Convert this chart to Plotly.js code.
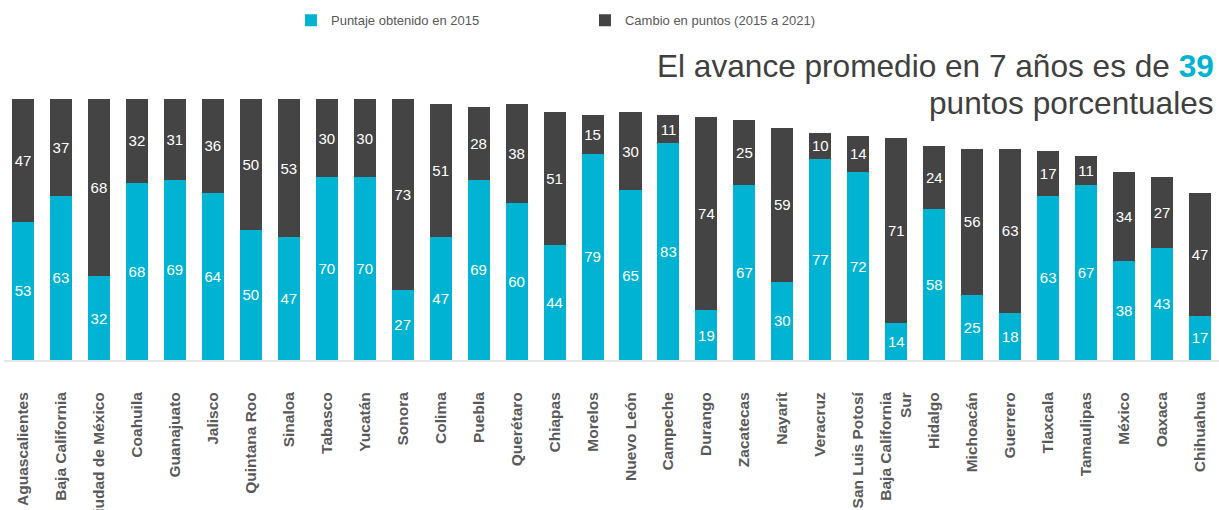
<!DOCTYPE html>
<html>
<head>
<meta charset="utf-8">
<script src="https://cdn.plot.ly/plotly-3.0.1.min.js"></script>
<style>html,body{margin:0;padding:0;background:#fff;}#chart{width:1219px;height:510px;}</style>
</head>
<body>
<div id="chart"></div>
<script>
const estados = ["Aguascalientes","Baja California","Ciudad de México","Coahuila","Guanajuato","Jalisco","Quintana Roo","Sinaloa","Tabasco","Yucatán","Sonora","Colima","Puebla","Querétaro","Chiapas","Morelos","Nuevo León","Campeche","Durango","Zacatecas","Nayarit","Veracruz","San Luis Potosí","Baja California<br>Sur","Hidalgo","Michoacán","Guerrero","Tlaxcala","Tamaulipas","México","Oaxaca","Chihuahua"];
const puntaje2015 = [53,63,32,68,69,64,50,47,70,70,27,47,69,60,44,79,65,83,19,67,30,77,72,14,58,25,18,63,67,38,43,17];
const cambio = [47,37,68,32,31,36,50,53,30,30,73,51,28,38,51,15,30,11,74,25,59,10,14,71,24,56,63,17,11,34,27,47];
const tituloLinea1 = "El avance promedio en 7 años es de ";
const tituloCifra = "39";
const tituloLinea2 = "puntos porcentuales";

const cyan = "#00B3D3";
const dark = "#444444";
const gray = "#595959";
const fam = "Liberation Sans, Arial, sans-serif";

const traces = [
  {type:"bar", name:"Puntaje obtenido en 2015", x:estados, y:puntaje2015,
   marker:{color:cyan}, text:puntaje2015.map(String), textposition:"inside",
   insidetextanchor:"middle", textangle:0, constraintext:"none",
   textfont:{color:"#fff", size:15, family:fam}, hoverinfo:"x+y"},
  {type:"bar", name:"Cambio en puntos (2015 a 2021)", x:estados, y:cambio,
   marker:{color:dark}, text:cambio.map(String), textposition:"inside",
   insidetextanchor:"middle", textangle:0, constraintext:"none",
   textfont:{color:"#fff", size:15, family:fam}, hoverinfo:"x+y"}
];

const layout = {
  width:1219, height:510,
  barmode:"stack", bargap:0.42,
  margin:{l:4, r:0, t:99, b:150},
  paper_bgcolor:"#fff", plot_bgcolor:"#fff",
  font:{family:fam, color:gray},
  showlegend:true,
  legend:{orientation:"h", xref:"container", yref:"container", x:0.2387, xanchor:"left", y:0.96, yanchor:"middle",
    entrywidth:249, font:{size:13, color:gray}, traceorder:"normal"},
  xaxis:{type:"category", tickangle:-90, ticks:"", showgrid:false, zeroline:false,
    showline:true, linecolor:"#E6E6E6", linewidth:2, layer:"below traces",
    ticklabelstandoff:24,
    tickfont:{size:15.5, color:gray, family:fam, weight:"bold"}},
  yaxis:{range:[0,100], visible:false, showgrid:false, zeroline:false, fixedrange:true},
  annotations:[
   {xref:"paper", yref:"paper", x:0.9975, y:1.1264, xanchor:"right", yanchor:"middle", align:"right",
    showarrow:false,
    text:tituloLinea1+"<b><span style=\"color:"+cyan+"\">"+tituloCifra+"</span></b>",
    font:{size:31.6, color:"#404040", family:fam}},
   {xref:"paper", yref:"paper", x:0.9975, y:0.985, xanchor:"right", yanchor:"middle", align:"right",
    showarrow:false, text:tituloLinea2,
    font:{size:31.6, color:"#404040", family:fam}}
  ]
};

Plotly.newPlot("chart", traces, layout, {displayModeBar:false, staticPlot:true});
</script>
</body>
</html>
